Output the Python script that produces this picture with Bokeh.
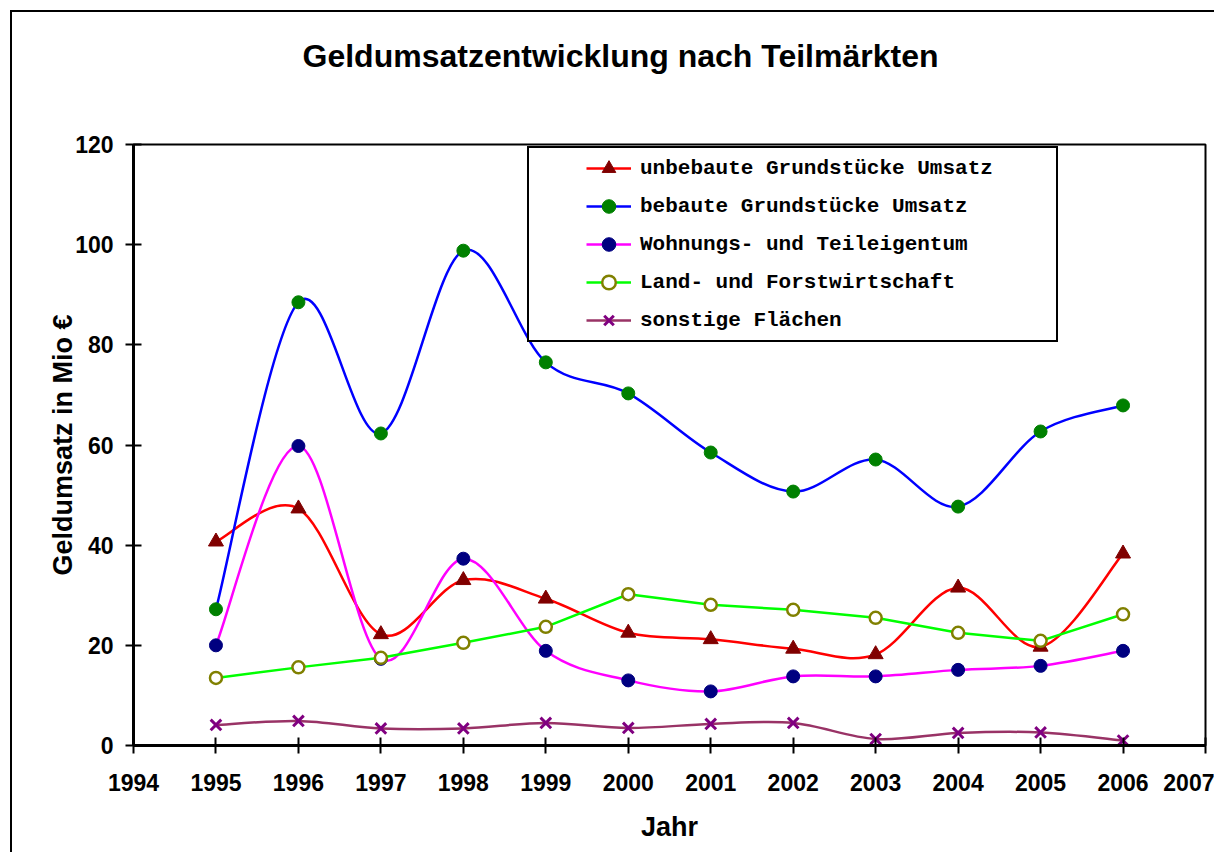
from bokeh.plotting import figure
from bokeh.models import ColumnDataSource, Legend, LegendItem, FixedTicker, Title
from bokeh.embed import file_html
from bokeh.resources import INLINE

# ---------------- data ----------------
years = [1995, 1996, 1997, 1998, 1999, 2000, 2001, 2002, 2003, 2004, 2005, 2006]
unbebaute = [40.7, 47.3, 22.2, 33.0, 29.3, 22.5, 21.2, 19.3, 18.2, 31.5, 19.7, 38.3]
bebaute = [27.2, 88.5, 62.3, 98.8, 76.5, 70.3, 58.5, 50.7, 57.1, 47.7, 62.7, 67.9]
wohnungs = [20.0, 59.8, 17.3, 37.3, 18.9, 13.0, 10.8, 13.8, 13.8, 15.1, 15.9, 18.9]
land = [13.5, 15.6, 17.5, 20.5, 23.7, 30.2, 28.1, 27.1, 25.5, 22.5, 20.9, 26.2]
sonstige = [4.1, 4.9, 3.4, 3.4, 4.5, 3.5, 4.3, 4.5, 1.3, 2.5, 2.6, 1.0]

labels = ["unbebaute Grundstücke Umsatz", "bebaute Grundstücke Umsatz",
          "Wohnungs- und Teileigentum", "Land- und Forstwirtschaft", "sonstige Flächen"]
x_ticks = list(range(1994, 2008))
y_ticks = [0, 20, 40, 60, 80, 100, 120]

SANS = "Liberation Sans"
MONO = "Liberation Mono"


def smooth_source(xs, ys):
    """Catmull-Rom style bezier segments (Excel 'smoothed line')."""
    n = len(xs)
    d = dict(x0=[], y0=[], x1=[], y1=[], cx0=[], cy0=[], cx1=[], cy1=[])
    for i in range(n - 1):
        a = i - 1 if i > 0 else i
        b = i + 2 if i + 2 < n else i + 1
        d["x0"].append(xs[i]); d["y0"].append(ys[i])
        d["x1"].append(xs[i + 1]); d["y1"].append(ys[i + 1])
        d["cx0"].append(xs[i] + (xs[i + 1] - xs[a]) / 6.0)
        d["cy0"].append(ys[i] + (ys[i + 1] - ys[a]) / 6.0)
        d["cx1"].append(xs[i + 1] - (xs[b] - xs[i]) / 6.0)
        d["cy1"].append(ys[i + 1] - (ys[b] - ys[i]) / 6.0)
    return ColumnDataSource(d)


p = figure(width=1204, height=842, output_backend="svg", toolbar_location=None,
           x_range=(1994, 2007), y_range=(0, 120),
           min_border_left=121, min_border_right=11, min_border_top=132, min_border_bottom=109)
p.margin = (10, 0, 0, 10)
p.styles = {"border-left": "2px solid black", "border-top": "2px solid black"}

p.title.text = "Geldumsatzentwicklung nach Teilmärkten"
p.title.text_font = SANS
p.title.text_font_size = "32px"
p.title.text_font_style = "bold"
p.title.text_color = "black"
p.title.align = "left"
p.title.standoff = 0
p.title.offset = 169
# spacer between title and plot area
p.add_layout(Title(text=" ", text_font_size="1px", standoff=68), "above")

p.xgrid.visible = False
p.ygrid.visible = False
p.outline_line_color = "black"
p.outline_line_width = 2
p.outline_line_alpha = 1
p.background_fill_color = "white"
p.border_fill_color = "white"

for ax in (p.xaxis[0], p.yaxis[0]):
    ax.axis_line_width = 3
    ax.axis_line_color = "black"
    ax.major_tick_line_width = 2
    ax.major_tick_line_color = "black"
    ax.major_tick_in = 8
    ax.major_tick_out = 8
    ax.minor_tick_line_color = None
    ax.major_label_text_font = SANS
    ax.major_label_text_font_size = "23px"
    ax.major_label_text_font_style = "bold"
    ax.major_label_text_color = "black"
    ax.axis_label_text_font = SANS
    ax.axis_label_text_font_size = "27px"
    ax.axis_label_text_font_style = "bold"
    ax.axis_label_text_color = "black"

p.xaxis.ticker = FixedTicker(ticks=x_ticks)
p.yaxis.ticker = FixedTicker(ticks=y_ticks)
p.xaxis.axis_label = "Jahr"
p.yaxis.axis_label = "Geldumsatz in Mio €"
p.xaxis.major_label_standoff = 20
p.yaxis.major_label_standoff = 12
p.xaxis.axis_label_standoff = 18
p.yaxis.axis_label_standoff = -6

LW = 2.5
# unbebaute
r1l = p.bezier("x0", "y0", "x1", "y1", "cx0", "cy0", "cx1", "cy1",
               source=smooth_source(years, unbebaute), line_color="#FF0000", line_width=LW)
r1m = p.scatter(years, unbebaute, marker="triangle", size=15, fill_color="#800000", line_color="#800000")
# bebaute
r2l = p.bezier("x0", "y0", "x1", "y1", "cx0", "cy0", "cx1", "cy1",
               source=smooth_source(years, bebaute), line_color="#0000FF", line_width=LW)
r2m = p.scatter(years, bebaute, marker="circle", size=13, fill_color="#008000", line_color="#008000")
# wohnungs
r3l = p.bezier("x0", "y0", "x1", "y1", "cx0", "cy0", "cx1", "cy1",
               source=smooth_source(years, wohnungs), line_color="#FF00FF", line_width=LW)
r3m = p.scatter(years, wohnungs, marker="circle", size=13, fill_color="#000080", line_color="#000080")
# land (straight)
r4l = p.line(years, land, line_color="#00FF00", line_width=LW)
r4m = p.scatter(years, land, marker="circle", size=12, fill_color="white", line_color="#808000", line_width=2.5)
# sonstige
r5l = p.bezier("x0", "y0", "x1", "y1", "cx0", "cy0", "cx1", "cy1",
               source=smooth_source(years, sonstige), line_color="#993366", line_width=LW)
r5m = p.scatter(years, sonstige, marker="x", size=15, line_color="#800080", line_width=3)

# legend frame
dummy = p.scatter([], [], size=1, alpha=0)
frame_leg = Legend(items=[LegendItem(label=" ", renderers=[dummy])],
                   location=(394, 403), padding=0, glyph_width=1, glyph_height=192,
                   label_width=526, label_height=192, label_standoff=0, margin=0,
                   border_line_color="black", border_line_width=2.5, border_line_alpha=1,
                   background_fill_color="white", background_fill_alpha=1,
                   label_text_font_size="1px")
p.add_layout(frame_leg)

items = [LegendItem(label=labels[0], renderers=[r1l, r1m]),
         LegendItem(label=labels[1], renderers=[r2l, r2m]),
         LegendItem(label=labels[2], renderers=[r3l, r3m]),
         LegendItem(label=labels[3], renderers=[r4l, r4m]),
         LegendItem(label=labels[4], renderers=[r5l, r5m])]
leg = Legend(items=items, location=(453, 408), padding=0, margin=0,
             glyph_width=45, glyph_height=34, label_height=34, label_standoff=9, spacing=4,
             border_line_color=None, background_fill_alpha=0,
             label_text_font=MONO, label_text_font_size="21px", label_text_font_style="bold",
             label_text_color="black")
p.add_layout(leg)

open("out.html", "w").write(file_html(p, INLINE))
